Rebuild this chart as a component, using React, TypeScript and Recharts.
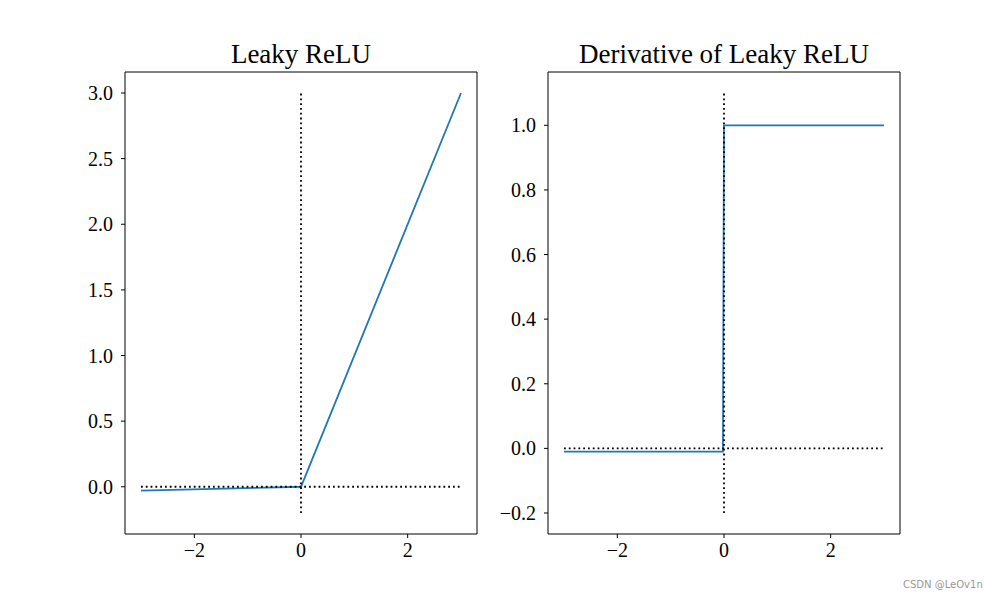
import { Line, LineChart, ReferenceArea, XAxis, YAxis } from "recharts"

// x ticks shared by both panels
const xTicks = [-2, 0, 2]

// Leaky ReLU panel
const leakyLine = [
  { x: -3, y: -0.03 },
  { x: 0, y: 0 },
  { x: 3, y: 3 },
]
const leakyVGuide = [
  { x: 0, y: -0.2 },
  { x: 0, y: 3 },
]
const leakyHGuide = [
  { x: -3, y: 0 },
  { x: 3, y: 0 },
]
const leakyTicks = [0, 0.5, 1, 1.5, 2, 2.5, 3]

// Derivative panel
const derivLine = [
  { x: -3, y: -0.01 },
  { x: -0.02, y: -0.01 },
  { x: 0, y: 1 },
  { x: 3, y: 1 },
]
const derivVGuide = [
  { x: 0, y: -0.2 },
  { x: 0, y: 1.1 },
]
const derivHGuide = [
  { x: -3, y: 0 },
  { x: 3, y: 0 },
]
const derivTicks = [-0.2, 0, 0.2, 0.4, 0.6, 0.8, 1.0]

const BLUE = "#1f77b4"
const SERIF = "'Liberation Serif', 'Times New Roman', serif"
const XDOMAIN: [number, number] = [-3.3, 3.3]

const fmtX = (v: number) => (v < 0 ? `\u2212${Math.abs(v)}` : `${v}`)
const fmtY = (v: number) => (v < 0 ? `\u2212${Math.abs(v).toFixed(1)}` : v.toFixed(1))

type PanelProps = {
  left: number
  title: string
  line: { x: number; y: number }[]
  vGuide: { x: number; y: number }[]
  hGuide: { x: number; y: number }[]
  yTicks: number[]
  yDomain: [number, number]
}

function Panel({ left, title, line, vGuide, hGuide, yTicks, yDomain }: PanelProps) {
  const tick = { fill: "#000", fontSize: 20, fontFamily: SERIF }
  return (
    <div style={{ position: "absolute", left, top: 0, width: 500, height: 600 }}>
      <div
        style={{
          position: "absolute",
          left: 125,
          width: 352,
          top: 37,
          textAlign: "center",
          fontFamily: SERIF,
          fontSize: 27,
          lineHeight: "34px",
          color: "#000",
        }}
      >
        {title}
      </div>
      <LineChart width={500} height={600} margin={{ top: 72, right: 23, bottom: 36, left: 65 }}>
        <XAxis
          type="number"
          dataKey="x"
          domain={XDOMAIN}
          ticks={xTicks}
          allowDataOverflow
          tickFormatter={fmtX}
          tick={tick}
          tickSize={4}
          tickMargin={5}
          axisLine={false}
          tickLine={{ stroke: "#000" }}
          height={30}
        />
        <YAxis
          type="number"
          dataKey="y"
          domain={yDomain}
          ticks={yTicks}
          allowDataOverflow
          tickFormatter={fmtY}
          tick={tick}
          tickSize={4}
          tickMargin={8}
          axisLine={false}
          tickLine={{ stroke: "#000" }}
          width={60}
        />
        <ReferenceArea
          x1={XDOMAIN[0]}
          x2={XDOMAIN[1]}
          y1={yDomain[0]}
          y2={yDomain[1]}
          fill="none"
          fillOpacity={0}
          stroke="#000"
          strokeWidth={1}
        />
        <Line
          data={line}
          dataKey="y"
          type="linear"
          stroke={BLUE}
          strokeWidth={1.8}
          dot={false}
          isAnimationActive={false}
        />
        <Line
          data={vGuide}
          dataKey="y"
          type="linear"
          stroke="#000"
          strokeWidth={1.8}
          strokeDasharray="1.8 3"
          dot={false}
          isAnimationActive={false}
        />
        <Line
          data={hGuide}
          dataKey="y"
          type="linear"
          stroke="#000"
          strokeWidth={1.8}
          strokeDasharray="1.8 3"
          dot={false}
          isAnimationActive={false}
        />
      </LineChart>
    </div>
  )
}

export default function App() {
  return (
    <div style={{ position: "relative", width: 1000, height: 600, margin: -8, background: "#fff" }}>
      <Panel
        left={0}
        title="Leaky ReLU"
        line={leakyLine}
        vGuide={leakyVGuide}
        hGuide={leakyHGuide}
        yTicks={leakyTicks}
        yDomain={[-0.36, 3.16]}
      />
      <Panel
        left={423}
        title="Derivative of Leaky ReLU"
        line={derivLine}
        vGuide={derivVGuide}
        hGuide={derivHGuide}
        yTicks={derivTicks}
        yDomain={[-0.265, 1.165]}
      />
      <div
        style={{
          position: "absolute",
          left: 903,
          top: 579,
          fontFamily: "'DejaVu Sans', sans-serif",
          fontSize: 10,
          color: "#999",
        }}
      >
        CSDN @LeOv1n
      </div>
    </div>
  )
}
